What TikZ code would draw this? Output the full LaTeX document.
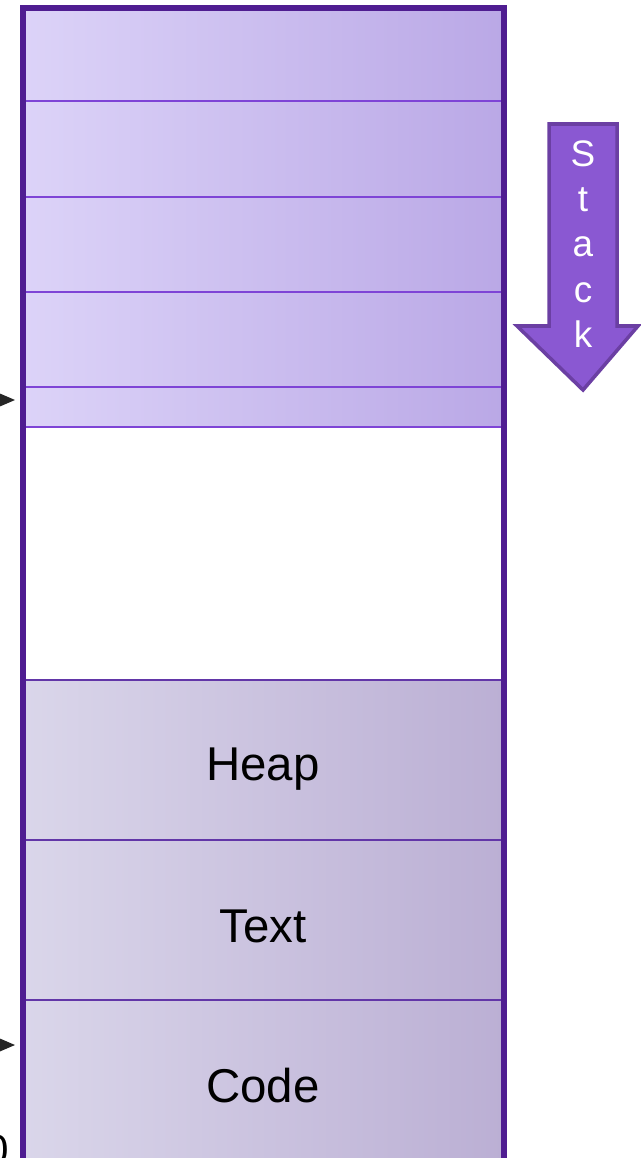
\documentclass[tikz,border=0pt]{standalone}
\usepackage{fontspec}
\setmainfont{Liberation Sans}
\usetikzlibrary{arrows.meta}
\definecolor{boxline}{HTML}{4F1D91}
\definecolor{frameline}{HTML}{7E44D6}
\definecolor{segline}{HTML}{6236A8}
\definecolor{stackL}{HTML}{DCD3F8}
\definecolor{stackR}{HTML}{BAA8E6}
\definecolor{segL}{HTML}{DAD6EA}
\definecolor{segR}{HTML}{BBAFD4}
\definecolor{arrowfill}{HTML}{8A58D2}
\definecolor{arrowline}{HTML}{6B3FA3}
\tikzset{
  stackframe/.style={left color=stackL, right color=stackR, draw=none},
  segment/.style={left color=segL, right color=segR, draw=none},
  seglabel/.style={font=\fontsize{27}{32}\selectfont, text=black},
  pointer/.style={-{Stealth[length=14pt,width=12pt]}, line width=1.2pt, black!85},
}
\begin{document}
\begin{tikzpicture}[x=0.02cm, y=-0.02cm]
\useasboundingbox (0,0) rectangle (641,1158);
\clip (0,0) rectangle (641,1158);
% stack frames
\foreach \a/\b in {8/101, 101/197, 197/292, 292/387, 387/427}
  \path[stackframe] (23,\a) rectangle (504,\b);
% heap, text and code segments
\path[segment] (23,680) rectangle (504,840);
\path[segment] (23,840) rectangle (504,1000);
\path[segment] (23,1000) rectangle (504,1175);
% separators
\foreach \y in {101, 197, 292, 387, 427}
  \draw[frameline, line width=1.3pt] (23,\y) -- (504,\y);
\foreach \y in {680, 840, 1000}
  \draw[segline, line width=1.3pt] (23,\y) -- (504,\y);
% labels
\node[seglabel] (heap) at (263,769) {Heap};
\node[seglabel] (text) at (263,926) {Text};
\node[seglabel] (code) at (263,1086) {Code};
% outer border
\draw[boxline, line width=3pt] (23,1180) -- (23,8) -- (504,8) -- (504,1180);
% growth arrow of the stack
\draw[arrowline, fill=arrowfill, line width=2pt, line join=miter]
  (549,124) -- (617,124) -- (617,326) -- (638,326) -- (583,390)
  -- (517,326) -- (549,326) -- cycle;
\node[text=white, font=\fontsize{21}{25.8}\selectfont, align=center, inner sep=0pt]
  (stacklabel) at (583,244) {S\\t\\a\\c\\k};
% pointers from the left edge
\coordinate (sp) at (-40,400);
\coordinate (spTip) at (15,400);
\coordinate (pc) at (-40,1045);
\coordinate (pcTip) at (15,1045);
\draw[pointer] (sp) -- (spTip);
\draw[pointer] (pc) -- (pcTip);
\node[font=\fontsize{24}{28}\selectfont, anchor=east, inner sep=0pt] (zero) at (9,1150) {0};
\end{tikzpicture}
\end{document}
